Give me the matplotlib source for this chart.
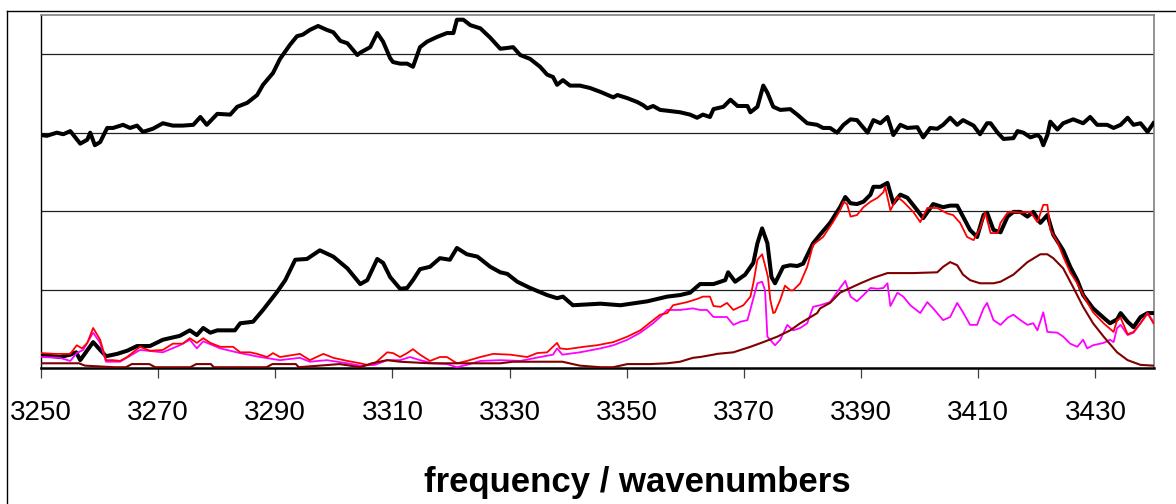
import matplotlib
matplotlib.use("Agg")
import matplotlib.pyplot as plt
from matplotlib.lines import Line2D

plt.rcParams['font.family'] = ['Liberation Sans', 'DejaVu Sans']

# ---- spectra (wavenumber, intensity in arbitrary units) ----
total_wn = [3250.0, 3253.2, 3255.0, 3256.0, 3256.7, 3258.9, 3260.1, 3261.1, 3263.0, 3264.7,
            3266.4, 3268.6, 3270.8, 3273.7, 3275.4, 3276.6, 3277.7, 3278.9, 3280.1, 3283.1,
            3284.0, 3286.2, 3287.9, 3290.3, 3291.7, 3293.4, 3295.4, 3297.6, 3299.9, 3302.3,
            3304.5, 3305.7, 3307.4, 3308.4, 3309.6, 3311.3, 3312.5, 3313.5, 3314.7, 3316.4,
            3318.1, 3319.8, 3321.0, 3322.7, 3324.5, 3326.7, 3328.4, 3329.6, 3331.3, 3333.5,
            3336.4, 3338.1, 3339.1, 3340.8, 3345.5, 3348.9, 3353.5, 3356.9, 3359.1, 3360.8,
            3362.5, 3364.8, 3366.8, 3367.3, 3368.5, 3370.2, 3371.6, 3372.3, 3373.1, 3374.0,
            3374.7, 3375.3, 3376.7, 3377.9, 3379.1, 3380.1, 3381.8, 3383.0, 3384.7, 3386.4,
            3387.3, 3388.2, 3389.3, 3390.4, 3391.6, 3392.1, 3393.3, 3394.5, 3395.5, 3396.7,
            3397.9, 3399.6, 3400.6, 3402.3, 3404.0, 3405.2, 3406.4, 3407.4, 3408.6, 3409.8,
            3410.9, 3411.5, 3412.6, 3413.8, 3415.0, 3416.0, 3417.2, 3418.4, 3419.4, 3420.6,
            3421.8, 3422.8, 3424.5, 3425.7, 3426.9, 3427.9, 3429.6, 3431.4, 3432.5, 3433.7,
            3434.3, 3435.5, 3436.5, 3437.7, 3438.9, 3439.9]
total_val = [0.17, 0.14, 0.17, 0.20, 0.10, 0.33, 0.23, 0.15, 0.18, 0.22,
             0.28, 0.28, 0.36, 0.41, 0.48, 0.42, 0.51, 0.45, 0.48, 0.48,
             0.57, 0.59, 0.74, 0.97, 1.12, 1.38, 1.39, 1.50, 1.42, 1.27,
             1.07, 1.12, 1.39, 1.34, 1.16, 1.01, 1.02, 1.12, 1.26, 1.29,
             1.40, 1.38, 1.53, 1.45, 1.42, 1.29, 1.22, 1.20, 1.10, 1.02,
             0.93, 0.89, 0.91, 0.80, 0.82, 0.80, 0.85, 0.91, 0.93, 0.96,
             1.07, 1.07, 1.12, 1.22, 1.10, 1.19, 1.34, 1.59, 1.78, 1.59,
             1.16, 1.08, 1.29, 1.31, 1.30, 1.33, 1.59, 1.70, 1.85, 2.05,
             2.18, 2.10, 2.09, 2.12, 2.21, 2.31, 2.31, 2.36, 2.10, 2.21,
             2.17, 2.01, 1.91, 2.09, 2.05, 2.07, 2.07, 1.93, 1.76, 1.67,
             1.95, 1.98, 1.76, 1.73, 1.93, 1.99, 1.99, 1.93, 1.99, 1.85,
             1.95, 1.70, 1.50, 1.29, 1.12, 0.93, 0.76, 0.64, 0.57, 0.62,
             0.70, 0.59, 0.52, 0.65, 0.70, 0.70]

fit_wn = [3250.0, 3252.4, 3255.0, 3256.1, 3257.0, 3257.9, 3258.9, 3260.1, 3261.1, 3262.3,
          3263.5, 3264.7, 3266.9, 3268.6, 3270.8, 3272.5, 3274.2, 3275.4, 3276.6, 3277.7,
          3278.9, 3280.6, 3282.8, 3284.0, 3285.7, 3286.9, 3288.6, 3289.6, 3290.8, 3294.2,
          3295.9, 3298.2, 3299.9, 3302.3, 3304.5, 3305.7, 3307.0, 3309.1, 3310.1, 3311.3,
          3312.5, 3313.5, 3314.7, 3316.4, 3318.1, 3319.3, 3321.0, 3322.7, 3325.0, 3327.2,
          3330.1, 3333.0, 3334.7, 3336.4, 3337.4, 3338.1, 3338.6, 3339.8, 3342.6, 3344.9,
          3347.7, 3350.1, 3352.3, 3354.5, 3355.7, 3356.9, 3357.9, 3360.3, 3362.0, 3363.0,
          3364.2, 3364.8, 3366.0, 3367.1, 3368.2, 3369.9, 3371.1, 3371.6, 3372.3, 3373.1,
          3373.6, 3374.1, 3374.5, 3375.0, 3375.3, 3376.2, 3377.0, 3377.9, 3378.4, 3379.6,
          3380.8, 3381.8, 3383.5, 3385.2, 3386.4, 3387.0, 3387.6, 3388.2, 3389.3, 3390.4,
          3391.6, 3392.8, 3393.8, 3394.1, 3395.0, 3396.2, 3397.2, 3398.9, 3400.1, 3401.3,
          3403.0, 3404.7, 3405.7, 3406.9, 3408.1, 3409.2, 3410.3, 3411.2, 3412.1, 3413.3,
          3413.8, 3415.0, 3416.0, 3417.2, 3418.9, 3420.1, 3421.1, 3421.8, 3422.3, 3423.5,
          3424.5, 3425.7, 3426.9, 3427.9, 3429.6, 3431.4, 3433.1, 3433.7, 3434.3, 3435.5,
          3436.5, 3437.7, 3438.9, 3439.9]
fit_val = [0.19, 0.18, 0.18, 0.29, 0.25, 0.32, 0.51, 0.36, 0.10, 0.10,
           0.09, 0.14, 0.27, 0.22, 0.23, 0.31, 0.31, 0.38, 0.32, 0.38,
           0.32, 0.27, 0.27, 0.20, 0.20, 0.18, 0.14, 0.19, 0.14, 0.18,
           0.10, 0.18, 0.13, 0.09, 0.06, 0.04, 0.06, 0.20, 0.19, 0.14,
           0.19, 0.24, 0.17, 0.09, 0.14, 0.14, 0.06, 0.09, 0.14, 0.18,
           0.17, 0.14, 0.19, 0.20, 0.27, 0.32, 0.25, 0.24, 0.27, 0.29,
           0.33, 0.40, 0.48, 0.61, 0.68, 0.70, 0.80, 0.84, 0.88, 0.91,
           0.91, 0.79, 0.78, 0.83, 0.74, 0.80, 0.91, 1.08, 1.38, 1.45,
           1.31, 1.16, 0.87, 0.70, 0.71, 0.87, 1.05, 0.99, 0.99, 1.08,
           1.29, 1.57, 1.67, 1.86, 2.01, 2.12, 2.09, 1.93, 1.95, 2.05,
           2.12, 2.17, 2.24, 2.31, 2.01, 2.18, 2.12, 1.99, 1.86, 2.04,
           2.04, 1.97, 1.95, 1.85, 1.67, 1.63, 1.78, 1.98, 1.72, 1.72,
           1.85, 1.98, 1.99, 1.98, 1.99, 1.86, 2.08, 2.08, 1.76, 1.61,
           1.42, 1.22, 1.08, 0.93, 0.71, 0.57, 0.46, 0.61, 0.64, 0.43,
           0.46, 0.57, 0.70, 0.57]

comp_a_wn = [3250.0, 3253.2, 3255.0, 3256.1, 3257.2, 3258.9, 3260.1, 3261.1, 3263.5, 3266.9,
             3270.8, 3273.7, 3275.4, 3276.6, 3277.7, 3280.6, 3284.0, 3287.4, 3290.8, 3294.2,
             3295.9, 3298.8, 3302.3, 3304.5, 3307.0, 3309.1, 3311.3, 3313.0, 3314.7, 3316.9,
             3319.3, 3321.0, 3322.7, 3325.0, 3328.4, 3331.8, 3335.2, 3337.4, 3338.1, 3339.0,
             3342.0, 3345.5, 3347.7, 3350.1, 3352.3, 3354.5, 3355.7, 3356.9, 3359.1, 3361.3,
             3362.5, 3363.7, 3364.8, 3366.0, 3367.1, 3368.2, 3369.4, 3370.6, 3371.4, 3372.3,
             3373.1, 3373.6, 3374.0, 3375.3, 3376.2, 3377.4, 3378.4, 3379.6, 3380.8, 3381.8,
             3383.0, 3384.7, 3386.4, 3387.3, 3388.2, 3389.3, 3390.4, 3391.6, 3392.8, 3393.8,
             3394.5, 3395.0, 3396.2, 3397.2, 3398.4, 3400.1, 3401.3, 3402.3, 3404.0, 3405.2,
             3406.4, 3407.4, 3408.6, 3409.8, 3410.9, 3411.5, 3412.6, 3413.8, 3415.0, 3416.0,
             3417.2, 3418.4, 3419.4, 3420.1, 3421.1, 3421.8, 3423.5, 3424.5, 3425.7, 3426.9,
             3427.9, 3428.6, 3429.6, 3431.4, 3432.5, 3433.1, 3433.7, 3434.3, 3435.5, 3436.5,
             3437.7, 3438.9, 3439.9]
comp_a_val = [0.14, 0.13, 0.09, 0.19, 0.23, 0.45, 0.32, 0.08, 0.08, 0.23,
              0.20, 0.29, 0.36, 0.25, 0.34, 0.25, 0.19, 0.14, 0.10, 0.13,
              0.08, 0.10, 0.06, 0.03, 0.04, 0.10, 0.10, 0.14, 0.10, 0.06,
              0.05, 0.01, 0.04, 0.09, 0.10, 0.09, 0.14, 0.17, 0.25, 0.17,
              0.20, 0.25, 0.29, 0.36, 0.45, 0.57, 0.65, 0.74, 0.74, 0.76,
              0.74, 0.74, 0.65, 0.65, 0.65, 0.55, 0.59, 0.61, 0.83, 1.08,
              1.10, 0.99, 0.40, 0.29, 0.36, 0.55, 0.48, 0.51, 0.57, 0.78,
              0.80, 0.84, 1.02, 1.11, 0.91, 0.85, 0.93, 1.02, 1.01, 1.02,
              1.08, 0.79, 0.96, 0.91, 0.80, 0.70, 0.84, 0.76, 0.61, 0.65,
              0.83, 0.71, 0.55, 0.55, 0.76, 0.83, 0.61, 0.55, 0.64, 0.68,
              0.61, 0.55, 0.57, 0.48, 0.71, 0.46, 0.45, 0.40, 0.31, 0.27,
              0.36, 0.25, 0.29, 0.32, 0.36, 0.33, 0.51, 0.55, 0.42, 0.45,
              0.57, 0.70, 0.59]

comp_b_wn = [3250.0, 3256.5, 3257.5, 3262.5, 3264.5, 3265.5, 3268.5, 3269.5, 3275.5, 3276.5,
             3279.0, 3279.5, 3288.5, 3289.5, 3293.5, 3294.0, 3297.5, 3301.0, 3304.5, 3306.5,
             3309.1, 3311.3, 3316.4, 3321.0, 3328.4, 3330.6, 3339.0, 3342.0, 3345.5, 3347.7,
             3350.1, 3354.0, 3356.9, 3359.1, 3361.3, 3362.5, 3364.8, 3365.4, 3368.2, 3371.1,
             3373.3, 3375.7, 3377.9, 3379.6, 3382.5, 3383.0, 3384.7, 3386.4, 3389.9, 3392.1,
             3394.5, 3398.9, 3403.0, 3404.0, 3405.2, 3406.4, 3407.4, 3408.6, 3410.3, 3412.6,
             3413.8, 3416.0, 3418.4, 3420.6, 3421.8, 3422.8, 3424.5, 3426.2, 3427.9, 3429.6,
             3431.4, 3433.7, 3435.5, 3437.7, 3439.9]
comp_b_val = [0.06, 0.06, 0.03, 0.01, 0.01, 0.05, 0.05, 0.01, 0.01, 0.05,
              0.05, 0.01, 0.01, 0.05, 0.05, 0.01, 0.03, 0.05, 0.01, 0.06,
              0.10, 0.08, 0.06, 0.06, 0.06, 0.08, 0.08, 0.03, 0.01, 0.01,
              0.05, 0.05, 0.06, 0.08, 0.13, 0.14, 0.17, 0.18, 0.20, 0.27,
              0.33, 0.40, 0.48, 0.57, 0.70, 0.76, 0.83, 0.96, 1.08, 1.15,
              1.21, 1.21, 1.22, 1.29, 1.35, 1.31, 1.19, 1.12, 1.08, 1.08,
              1.10, 1.19, 1.35, 1.45, 1.45, 1.40, 1.27, 1.03, 0.78, 0.57,
              0.40, 0.20, 0.10, 0.04, 0.03]

diff_wn = [3250.0, 3251.0, 3252.7, 3253.8, 3255.0, 3256.7, 3257.9, 3258.4, 3259.2, 3260.1,
           3261.3, 3262.3, 3264.0, 3265.2, 3266.4, 3267.4, 3269.1, 3270.8, 3272.5, 3274.2,
           3276.0, 3277.2, 3278.3, 3280.1, 3282.3, 3283.5, 3285.2, 3286.9, 3287.9, 3289.6,
           3290.8, 3292.5, 3293.7, 3294.7, 3295.9, 3297.3, 3298.8, 3299.9, 3301.1, 3302.3,
           3304.0, 3304.5, 3306.2, 3307.4, 3308.4, 3309.6, 3310.1, 3311.3, 3312.5, 3313.5,
           3314.7, 3315.9, 3317.6, 3319.3, 3320.4, 3321.0, 3322.1, 3323.3, 3325.0, 3326.7,
           3328.4, 3329.6, 3330.6, 3331.8, 3333.5, 3335.2, 3336.4, 3337.4, 3338.1, 3339.1,
           3340.3, 3342.0, 3343.7, 3345.5, 3347.7, 3348.4, 3350.1, 3351.8, 3352.8, 3353.5,
           3354.5, 3355.7, 3356.9, 3359.1, 3360.8, 3362.0, 3363.0, 3364.2, 3364.8, 3366.5,
           3367.7, 3368.9, 3370.6, 3371.1, 3372.3, 3373.3, 3374.0, 3375.0, 3376.2, 3377.9,
           3379.1, 3380.8, 3382.5, 3383.5, 3384.7, 3385.9, 3387.0, 3388.2, 3389.3, 3391.1,
           3392.1, 3393.3, 3394.5, 3395.5, 3396.7, 3397.9, 3399.6, 3400.6, 3401.8, 3403.0,
           3404.0, 3405.2, 3406.4, 3407.4, 3409.2, 3410.3, 3411.5, 3412.1, 3413.3, 3414.3,
           3416.0, 3416.7, 3417.7, 3418.9, 3420.1, 3420.6, 3421.1, 3421.8, 3422.3, 3423.5,
           3424.5, 3426.2, 3427.9, 3429.1, 3430.3, 3432.0, 3433.1, 3434.3, 3435.5, 3436.5,
           3437.7, 3438.9, 3439.9]
diff_val = [2.97, 2.96, 3.00, 2.98, 3.02, 2.86, 2.91, 3.00, 2.84, 2.88,
            3.06, 3.06, 3.10, 3.06, 3.09, 3.01, 3.05, 3.12, 3.09, 3.09,
            3.10, 3.20, 3.10, 3.24, 3.23, 3.33, 3.38, 3.48, 3.61, 3.76,
            3.94, 4.12, 4.23, 4.25, 4.31, 4.36, 4.31, 4.28, 4.17, 4.14,
            3.99, 4.02, 4.09, 4.27, 4.16, 3.95, 3.90, 3.88, 3.88, 3.84,
            4.09, 4.16, 4.22, 4.27, 4.27, 4.44, 4.44, 4.37, 4.33, 4.21,
            4.07, 4.08, 4.09, 3.99, 3.94, 3.84, 3.74, 3.71, 3.61, 3.67,
            3.60, 3.60, 3.57, 3.52, 3.45, 3.48, 3.44, 3.39, 3.35, 3.31,
            3.34, 3.29, 3.28, 3.26, 3.23, 3.19, 3.23, 3.20, 3.30, 3.33,
            3.42, 3.34, 3.34, 3.26, 3.33, 3.60, 3.51, 3.33, 3.29, 3.30,
            3.23, 3.12, 3.10, 3.06, 3.06, 3.00, 3.10, 3.17, 3.16, 3.00,
            3.16, 3.12, 3.20, 2.97, 3.10, 3.06, 3.07, 2.94, 3.06, 3.05,
            3.10, 3.19, 3.10, 3.16, 3.09, 2.98, 3.12, 3.12, 3.00, 2.92,
            2.93, 3.02, 3.00, 2.94, 2.97, 2.94, 2.84, 2.97, 3.14, 3.04,
            3.12, 3.17, 3.12, 3.20, 3.10, 3.10, 3.06, 3.10, 3.19, 3.10,
            3.12, 3.01, 3.12]

xticks = [3250, 3270, 3290, 3310, 3330, 3350, 3370, 3390, 3410, 3430]
xlabel = "frequency / wavenumbers"

W, H = 1176, 504
fig = plt.figure(figsize=(W / 100, H / 100), dpi=100)
ax = fig.add_axes([41 / W, (H - 368) / H, (1154 - 41) / W, (368 - 15) / H])

ax.plot(total_wn, total_val, color='black', lw=2.9, solid_joinstyle='round', zorder=3)
ax.plot(comp_a_wn, comp_a_val, color='#FF00FF', lw=1.3, zorder=4)
ax.plot(fit_wn, fit_val, color='#FF0000', lw=1.3, zorder=5)
ax.plot(comp_b_wn, comp_b_val, color='#800000', lw=1.5, zorder=6)
ax.plot(diff_wn, diff_val, color='black', lw=2.9, solid_joinstyle='round', zorder=3)

ax.set_xlim(3250, 3440)
ax.set_ylim(0, 4.5)
ax.set_yticks([1, 2, 3, 4])
ax.yaxis.grid(True, color='#202020', lw=0.9)
ax.set_axisbelow(True)
ax.tick_params(axis='y', left=False, labelleft=False)

ax.set_xticks(xticks)
ax.set_xticklabels([str(t) for t in xticks])
ax.tick_params(axis='x', direction='out', length=7, width=0.9, color='#404040',
               labelsize=20, pad=16)

for side in ('top', 'right'):
    ax.spines[side].set_color('#808080')
    ax.spines[side].set_linewidth(1.2)
ax.spines['left'].set_color('black')
ax.spines['left'].set_linewidth(1.0)
ax.spines['bottom'].set_color('black')
ax.spines['bottom'].set_linewidth(1.8)

fig.text(637.5 / W, 1 - 492 / H, xlabel, ha='center', va='baseline',
         fontsize=25, fontweight='bold')

# outer chart frame
fig.add_artist(Line2D([7 / W, 7 / W], [0, 1 - 11 / H], color='black', lw=1.0,
                      transform=fig.transFigure))
fig.add_artist(Line2D([7 / W, 1], [1 - 11 / H, 1 - 11 / H], color='black', lw=1.0,
                      transform=fig.transFigure))

fig.savefig('out.png', dpi=100)
